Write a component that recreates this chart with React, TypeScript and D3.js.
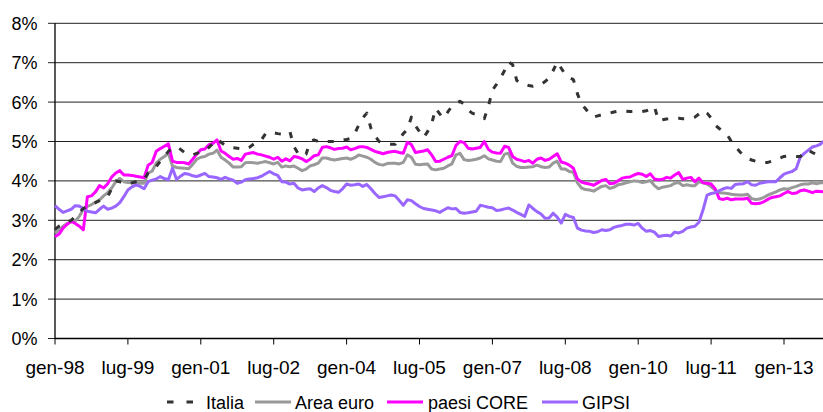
import React from 'react';
import * as d3 from 'd3';

// monthly series, gen-98 .. nov-13 (values in %)
const italia = [
  2.77, 2.85, 2.9, 2.95, 3.0, 3.1, 3.2, 3.3, 3.35, 3.4, 3.45, 3.5,
  3.55, 3.6, 3.8, 4.0, 3.98, 3.94, 3.92, 3.95, 3.98, 4.0, 4.04, 4.2,
  4.3, 4.36, 4.5, 4.62, 4.75, 4.82, 4.87, 4.8, 4.72, 4.68, 4.66, 4.7,
  4.73, 4.75, 4.85, 4.95, 5.06, 4.98, 4.9, 4.86, 4.84, 4.83, 4.82, 4.8,
  4.85, 4.93, 5.0, 5.05, 5.2, 5.24, 5.22, 5.2, 5.19, 5.22, 5.25, 4.87,
  4.7, 4.62, 4.68, 5.0, 5.04, 5.0, 5.0, 5.0, 5.0, 5.0, 5.02, 5.04,
  5.05, 5.08, 5.2, 5.42, 5.6, 5.72, 5.34, 5.15, 5.0, 4.97, 4.95, 4.93,
  4.93, 5.05, 5.2, 5.3, 5.62, 5.4, 5.25, 5.1, 5.25, 5.45, 5.84, 5.7,
  5.59, 5.75, 5.9, 5.97, 6.02, 5.95, 5.8, 5.72, 5.68, 5.62, 5.58, 5.89,
  6.3, 6.45, 6.61, 6.8, 7.02, 6.95, 6.55, 6.48, 6.45, 6.42, 6.4, 6.42,
  6.45, 6.52, 6.61, 6.8, 7.02, 6.86, 6.7, 6.62, 6.57, 6.21, 5.95, 5.83,
  5.7, 5.62, 5.65, 5.68, 5.7, 5.72, 5.75, 5.77, 5.78, 5.77, 5.76, 5.76,
  5.75, 5.76, 5.78, 5.82, 5.89, 5.53, 5.55, 5.57, 5.58, 5.59, 5.59, 5.58,
  5.58, 5.59, 5.62, 5.7, 5.79, 5.72, 5.6, 5.42, 5.33, 5.25, 5.17, 5.0,
  4.88, 4.75, 4.65, 4.57, 4.53, 4.5, 4.48, 4.47, 4.47, 4.5, 4.55, 4.58,
  4.62, 4.63, 4.63, 4.62, 4.62, 4.7, 4.78, 4.72, 4.68, 4.66, 4.65,
];

const areaEuro = [
  2.68, 2.75, 2.85, 2.92, 2.96, 2.98, 3.1, 3.28, 3.35, 3.4, 3.46, 3.52,
  3.62, 3.7, 3.82, 3.98, 4.06, 3.98, 3.96, 3.95, 3.95, 3.94, 3.94, 4.2,
  4.25, 4.45, 4.55, 4.62, 4.7, 4.38, 4.34, 4.33, 4.32, 4.31, 4.42, 4.55,
  4.6, 4.62, 4.68, 4.7, 4.78, 4.6, 4.53, 4.45, 4.35, 4.35, 4.36, 4.46,
  4.47, 4.46, 4.45, 4.47, 4.49, 4.46, 4.43, 4.47, 4.35, 4.38, 4.36, 4.38,
  4.32, 4.26, 4.3, 4.38, 4.41, 4.45, 4.58, 4.58, 4.55, 4.53, 4.55, 4.57,
  4.58, 4.55, 4.59, 4.66, 4.63, 4.6, 4.55, 4.47, 4.42, 4.4, 4.44, 4.45,
  4.45, 4.43, 4.47, 4.66, 4.6, 4.42, 4.41, 4.42, 4.43, 4.3, 4.28, 4.3,
  4.32, 4.38, 4.43, 4.66, 4.7, 4.54, 4.52, 4.53, 4.55, 4.58, 4.64, 4.56,
  4.53, 4.5, 4.49, 4.68, 4.7, 4.45, 4.37, 4.34, 4.34, 4.35, 4.36, 4.4,
  4.36, 4.34, 4.35, 4.45, 4.5, 4.3, 4.3, 4.24, 4.22, 3.95, 3.82, 3.78,
  3.77, 3.74, 3.8, 3.86, 3.88, 3.81, 3.84, 3.9, 3.92, 3.95, 3.98, 4.0,
  3.99, 3.96, 3.98, 4.01, 3.88, 3.8, 3.84, 3.86, 3.88, 3.94, 3.96, 3.88,
  3.9, 3.88, 3.88, 3.98, 3.95, 3.92, 3.85, 3.77, 3.7, 3.69, 3.68, 3.66,
  3.65, 3.64, 3.64, 3.66, 3.55, 3.53, 3.54, 3.58, 3.64, 3.68, 3.72, 3.77,
  3.8, 3.79, 3.83, 3.86, 3.9, 3.92, 3.92, 3.95, 3.93, 3.95, 3.96,
];

const paesiCore = [
  2.58, 2.65, 2.8, 2.9, 2.97, 2.92, 2.85, 2.76, 3.6, 3.62, 3.72, 3.88,
  3.82, 3.93, 4.1, 4.2, 4.26, 4.15, 4.15, 4.14, 4.12, 4.1, 4.08, 4.4,
  4.47, 4.75, 4.82, 4.88, 4.94, 4.5, 4.47, 4.47, 4.46, 4.43, 4.55, 4.68,
  4.79, 4.81, 4.92, 4.95, 5.04, 4.76, 4.7, 4.62, 4.55, 4.57, 4.52, 4.68,
  4.7, 4.72, 4.68, 4.66, 4.63, 4.6, 4.55, 4.6, 4.5, 4.56, 4.51, 4.62,
  4.6, 4.56, 4.49, 4.55, 4.64, 4.66, 4.85, 4.87, 4.84, 4.8, 4.82, 4.83,
  4.86, 4.79, 4.82, 4.86, 4.87, 4.85, 4.8, 4.75, 4.72, 4.69, 4.72, 4.74,
  4.75, 4.72, 4.7, 4.98, 4.92, 4.72, 4.74, 4.76, 4.79, 4.66, 4.49, 4.5,
  4.55, 4.6, 4.64, 4.9, 5.0, 4.97, 4.83, 4.81, 4.83, 4.85, 5.0, 4.8,
  4.73, 4.71, 4.7, 4.88, 4.85, 4.62, 4.55, 4.52, 4.49, 4.52, 4.45, 4.55,
  4.58, 4.52, 4.55, 4.62, 4.69, 4.48, 4.45, 4.4, 4.32, 4.05, 3.97, 3.94,
  3.92, 3.89, 3.95, 4.01, 4.04, 3.93, 3.94, 4.0, 4.07, 4.09, 4.1, 4.15,
  4.19, 4.17, 4.11, 4.18, 4.05, 4.03, 4.04, 4.09, 4.07, 4.15, 4.21, 4.04,
  4.07, 4.09, 3.98, 4.07, 3.95, 3.94, 3.92, 3.8, 3.55, 3.53, 3.56, 3.52,
  3.54, 3.54, 3.54, 3.56, 3.43, 3.42, 3.43, 3.47, 3.53, 3.58, 3.6, 3.62,
  3.68, 3.73, 3.68, 3.69, 3.75, 3.77, 3.74, 3.7, 3.74, 3.73, 3.72,
];

const gipsi = [
  3.37, 3.28, 3.2, 3.24, 3.28, 3.37, 3.36, 3.3, 3.23, 3.21, 3.19, 3.28,
  3.36, 3.28, 3.31, 3.36, 3.45, 3.6, 3.77, 3.85, 3.9, 3.86, 3.8, 3.98,
  4.02, 4.05, 4.11, 4.06, 4.03, 4.32, 4.04, 4.12, 4.19, 4.17, 4.13, 4.11,
  4.15, 4.19, 4.11, 4.1, 4.08, 4.04, 4.09, 4.05, 4.02, 3.94, 3.97, 4.03,
  4.05, 4.06, 4.08, 4.12, 4.18, 4.24, 4.18, 4.14, 3.98, 3.97, 3.92, 3.94,
  3.82, 3.77, 3.79, 3.8, 3.73, 3.82, 3.88, 3.83, 3.76, 3.73, 3.71, 3.8,
  3.92, 3.89, 3.9, 3.92, 3.86, 3.91, 3.8, 3.68, 3.58, 3.6, 3.62, 3.64,
  3.62, 3.5, 3.38, 3.52, 3.5, 3.42, 3.35, 3.3, 3.28, 3.26, 3.24, 3.2,
  3.26, 3.32, 3.29, 3.3, 3.2, 3.18, 3.19, 3.21, 3.23, 3.38, 3.36, 3.33,
  3.32, 3.25, 3.26, 3.29, 3.31, 3.26, 3.2, 3.15, 3.1, 3.39, 3.3, 3.22,
  3.16, 3.05, 3.06, 3.18, 3.08, 2.93, 3.15, 3.1, 3.07, 2.8, 2.75, 2.73,
  2.72, 2.69, 2.71, 2.76, 2.74, 2.76, 2.82, 2.85, 2.87, 2.9, 2.9, 2.88,
  2.92, 2.8, 2.72, 2.74, 2.7, 2.59, 2.61, 2.62, 2.6, 2.7, 2.68, 2.72,
  2.8, 2.83, 2.85, 2.95, 3.26, 3.64, 3.68, 3.7, 3.75, 3.8, 3.83, 3.81,
  3.91, 3.92, 3.93, 3.98, 3.9, 3.89, 3.94, 3.96, 3.98, 3.98, 3.98, 4.08,
  4.17, 4.21, 4.24, 4.31, 4.6, 4.7, 4.78, 4.86, 4.89, 4.93, 5.03,
];

const tickLabels = ['gen-98', 'lug-99', 'gen-01', 'lug-02', 'gen-04', 'lug-05', 'gen-07', 'lug-08', 'gen-10', 'lug-11', 'gen-13'];
const yTicks = [0, 1, 2, 3, 4, 5, 6, 7, 8];

const monthNames = ['gen', 'feb', 'mar', 'apr', 'mag', 'giu', 'lug', 'ago', 'set', 'ott', 'nov', 'dic'];
const startYear = 1998;

const series = [
  { name: 'Italia', values: italia, color: '#333333', dash: '6,10', width: 3 },
  { name: 'Area euro', values: areaEuro, color: '#999999', dash: null, width: 3 },
  { name: 'paesi CORE', values: paesiCore, color: '#FF00FF', dash: null, width: 3 },
  { name: 'GIPSI', values: gipsi, color: '#9966FF', dash: null, width: 3 },
];

// 'gen-98' -> months since gen-98
const labelToIndex = (label: string) => {
  const [mon, yy] = label.split('-');
  const year = 1900 + (+yy < 50 ? 100 + +yy : +yy);
  return (year - startYear) * 12 + monthNames.indexOf(mon);
};

const W = 823;
const H = 412;
const FONT = '"Liberation Sans", Arial, sans-serif';

export default function App() {
  const x = d3.scaleLinear().domain([0, 190]).range([55, 824.5]);
  const y = d3.scaleLinear().domain([0, 8]).range([338.5, 23.3]);

  const line = d3.line<number>()
    .x((_, i) => x(i))
    .y(d => y(d));

  const legendItems = [
    { s: series[0], lx: 167, tx: 206 },
    { s: series[1], lx: 255, tx: 295 },
    { s: series[2], lx: 387, tx: 428 },
    { s: series[3], lx: 542, tx: 582 },
  ];

  return (
    <svg
      width={W}
      height={H}
      style={{ position: 'absolute', left: 0, top: 0, display: 'block', background: '#fff' }}
      fontFamily={FONT}
    >
      <rect width={W} height={H} fill="#fff" />

      {/* gridlines + y labels */}
      {yTicks.map(t => (
        <g key={t}>
          <line x1={48} x2={W} y1={y(t)} y2={y(t)} stroke="#222" strokeWidth={1} />
          <text x={37.5} y={y(t) + 6.5} textAnchor="end" fontSize={18} fill="#000">{t}%</text>
        </g>
      ))}

      {/* axes */}
      <line x1={55} x2={55} y1={y(8)} y2={y(0)} stroke="#000" strokeWidth={1.3} />
      <line x1={55} x2={W} y1={y(0)} y2={y(0)} stroke="#000" strokeWidth={1.3} />

      {/* x ticks + labels */}
      {tickLabels.map(l => {
        const xi = x(labelToIndex(l));
        return (
          <g key={l}>
            <line x1={xi} x2={xi} y1={y(0)} y2={y(0) + 6} stroke="#000" strokeWidth={1} />
            <text x={xi} y={373.5} textAnchor="middle" fontSize={19} fill="#000">{l}</text>
          </g>
        );
      })}

      {/* series */}
      {[series[1], series[2], series[3], series[0]].map(s => (
        <path
          key={s.name}
          d={line(s.values) || ''}
          fill="none"
          stroke={s.color}
          strokeWidth={s.width}
          strokeDasharray={s.dash || undefined}
          strokeLinejoin="round"
        />
      ))}

      {/* legend */}
      {legendItems.map(({ s, lx, tx }) => (
        <g key={s.name}>
          <line
            x1={lx}
            x2={lx + (s.dash ? 27 : 36)}
            y1={402}
            y2={402}
            stroke={s.color}
            strokeWidth={3}
            strokeDasharray={s.dash ? '6.5,13' : undefined}
          />
          <text x={tx} y={409} fontSize={18} fill="#000">{s.name}</text>
        </g>
      ))}
    </svg>
  );
}
